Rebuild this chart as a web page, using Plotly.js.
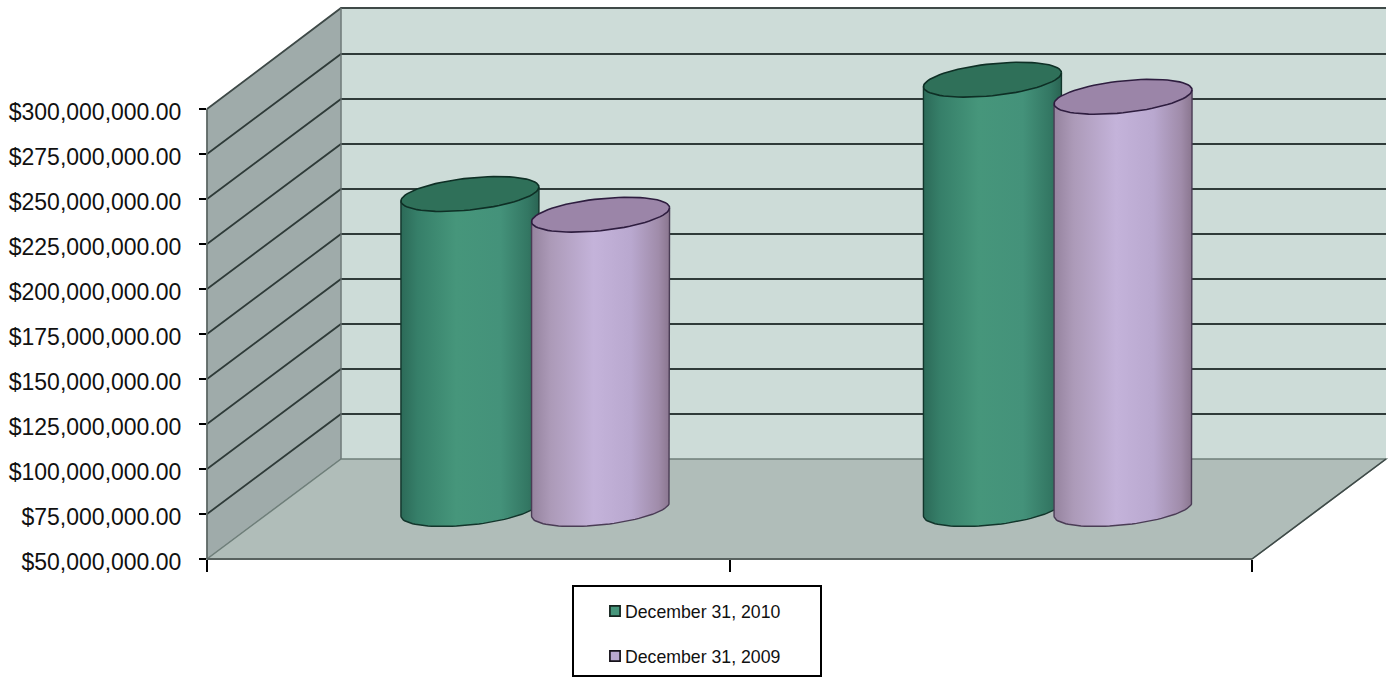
<!DOCTYPE html>
<html>
<head>
<meta charset="utf-8">
<script src="https://cdn.plot.ly/plotly-3.0.1.min.js"></script>
<style>
html,body{margin:0;padding:0;background:#fff;overflow:hidden}
#chart{width:1391px;height:677px}
.legend .legendpoints path{transform:translate(30px,0) scale(.85)}
.ytick text{translate:0 2.5px}
</style>
</head>
<body>
<div id="chart"></div>
<script>
// ---- data ----
const seriesNames = ['December 31, 2010', 'December 31, 2009'];
const groupCenters = [0.5, 1.5];
const values2010 = [225000000, 288500000];
const values2009 = [213500000, 279000000];
const axisTicks = [50000000, 75000000, 100000000, 125000000, 150000000, 175000000,
                   200000000, 225000000, 250000000, 275000000, 300000000];
const categoryEdges = [0, 1, 2];

// ---- page geometry (pixels) ----
const W = 1391, H = 677;
const frontLeft = 207, frontRight = 1252, frontBase = 559, frontTop = 109;
const depthX = 134, depthY = 100;
const pxPerUnit = (frontRight - frontLeft) / 2;
const pxPerValue = (frontBase - frontTop) / (300000000 - 50000000);
const baseValue = 50000000;
const px = x => x / W;
const py = y => 1 - y / H;
const valueY = v => frontBase - (v - baseValue) * pxPerValue;

// ---- walls, floor and grid ----
const poly = (pts, fill, line, lw) => ({
  type: 'path', xref: 'paper', yref: 'paper', layer: 'below',
  path: pts.map((p, i) => (i ? 'L' : 'M') + px(p[0]) + ',' + py(p[1])).join(' ') + (fill ? ' Z' : ''),
  fillcolor: fill || 'rgba(0,0,0,0)',
  line: {color: line, width: lw}
});
const backL = frontLeft + depthX, backR = frontRight + depthX;
const shapes = [
  poly([[backL, frontTop - depthY - 1], [backR, frontTop - depthY - 1], [backR, frontBase - depthY], [backL, frontBase - depthY]], '#cddcd8', '#cddcd8', 0),
  poly([[frontLeft, frontTop], [backL, frontTop - depthY - 1], [backL, frontBase - depthY], [frontLeft, frontBase]], '#9fabaa', '#7f8a88', 1),
  poly([[frontLeft, frontBase], [frontRight, frontBase], [backR, frontBase - depthY], [backL, frontBase - depthY]], '#b0bdb9', '#6f7f7a', 1.5)
];
axisTicks.forEach((v, i) => {
  const y = valueY(v);
  if (i === 0) return;
  shapes.push(poly([[frontLeft, y], [backL, y - depthY - (i === 10 ? 1 : 0)], [backR, y - depthY - (i === 10 ? 1 : 0)]], null, i === 10 ? '#3f4a48' : '#2f3b39', 1.8));
});
shapes.push(poly([[backL, frontTop - depthY - 1], [backL, frontBase - depthY]], null, '#6f7b7a', 1.2));
shapes.push(poly([[frontLeft, frontTop], [frontLeft, frontBase]], null, '#58625f', 1.6));
shapes.push(poly([[frontLeft, frontBase], [frontRight, frontBase]], null, '#58625f', 1.8));
shapes.push(poly([[frontRight, frontBase], [backR, frontBase - depthY]], null, '#3f4a48', 1.5));
// legend box
shapes.push({type: 'rect', xref: 'paper', yref: 'paper', layer: 'above',
  x0: px(573), x1: px(821), y0: py(676), y1: py(586),
  fillcolor: '#ffffff', line: {color: '#000000', width: 2}});

// ---- cylinders ----
const midX = frontLeft + depthX / 2, midBase = frontBase - depthY / 2;
const rx = 69, ry = 16, shear = 7;
const toX = p => (p - midX) / pxPerUnit;
const dY = d => d / pxPerValue;

function ring(cx, v, from, to, n) {
  const xs = [], ys = [];
  for (let i = 0; i <= n; i++) {
    const t = from + (to - from) * i / n;
    xs.push(cx + (rx * Math.cos(t)) / pxPerUnit);
    ys.push(v + dY(shear * Math.cos(t) - ry * Math.sin(t)));
  }
  return [xs, ys];
}
function bodyTrace(cx, v, colorscale, edge) {
  const bottom = ring(cx, baseValue, 0, Math.PI, 48);
  const xs = [cx + rx / pxPerUnit].concat(bottom[0], [cx - rx / pxPerUnit, cx + rx / pxPerUnit]);
  const ys = [v + dY(shear)].concat(bottom[1], [v - dY(shear), v + dY(shear)]);
  return {type: 'scatter', mode: 'lines', x: xs, y: ys, xaxis: 'x2', yaxis: 'y2', fill: 'toself',
    fillgradient: {type: 'horizontal', colorscale: colorscale},
    line: {color: edge, width: 1.4}, showlegend: false, hoverinfo: 'skip'};
}
function capTrace(cx, v, fill, edge) {
  const c = ring(cx, v, 0, 2 * Math.PI, 72);
  return {type: 'scatter', mode: 'lines', x: c[0], y: c[1], xaxis: 'x2', yaxis: 'y2', fill: 'toself',
    fillcolor: fill, line: {color: edge, width: 1.6}, showlegend: false, hoverinfo: 'skip'};
}
const greenScale = [[0, '#2c6a58'], [0.12, '#367f69'], [0.4, '#46967b'], [0.72, '#44927a'], [0.92, '#337763'], [1, '#2a6453']];
const purpleScale = [[0, '#95839e'], [0.14, '#ac9ab8'], [0.45, '#c4b3da'], [0.72, '#b9a8cf'], [0.92, '#a08caa'], [1, '#8a768f']];
const offset = 0.125;
const x2010 = groupCenters.map(c => c - offset);
const x2009 = groupCenters.map(c => c + offset);

const traces = [
  {type: 'bar', name: seriesNames[0], x: x2010, y: values2010.map(v => v - baseValue), base: baseValue, width: 0.2,
   xaxis: 'x2', yaxis: 'y2', legendgroup: 'a', marker: {color: '#46967b', line: {color: '#15241f', width: 2}}},
  {type: 'bar', name: seriesNames[1], x: x2009, y: values2009.map(v => v - baseValue), base: baseValue, width: 0.2,
   xaxis: 'x2', yaxis: 'y2', legendgroup: 'b', marker: {color: '#b9a8cf', line: {color: '#15121a', width: 2}}},
  {type: 'scatter', mode: 'none', x: [0], y: [baseValue], showlegend: false, hoverinfo: 'skip'}
];
[0, 1].forEach(i => {
  traces.push(bodyTrace(x2010[i], values2010[i], greenScale, '#12352b'));
  traces.push(capTrace(x2010[i], values2010[i], '#2f7059', '#0e2f25'));
  traces.push(bodyTrace(x2009[i], values2009[i], purpleScale, '#4a3c55'));
  traces.push(capTrace(x2009[i], values2009[i], '#9b85a8', '#2e1d3f'));
});

const layout = {
  width: W, height: H,
  margin: {l: 0, r: 0, t: 0, b: 0},
  paper_bgcolor: '#ffffff', plot_bgcolor: 'rgba(0,0,0,0)',
  barmode: 'overlay',
  showlegend: true,
  legend: {x: px(585), xanchor: 'left', y: py(593), yanchor: 'top', bgcolor: 'rgba(0,0,0,0)', borderwidth: 0,
    traceorder: 'grouped', tracegroupgap: 19, font: {family: 'Liberation Sans, Arial, sans-serif', size: 17.7, color: '#111'}},
  xaxis: {domain: [px(frontLeft), px(frontRight)], range: [0, 2], tickmode: 'array', tickvals: categoryEdges,
    ticktext: categoryEdges.map(() => ''), ticks: 'outside', ticklen: 12, tickwidth: 2, tickcolor: '#000',
    showgrid: false, zeroline: false, showline: false, fixedrange: true},
  yaxis: {domain: [py(frontBase), py(frontTop)], range: [baseValue, 300000000], tickmode: 'array', tickvals: axisTicks,
    tickformat: '$,.2f', ticks: 'outside', ticklen: 7, tickwidth: 2, tickcolor: '#000', ticklabelstandoff: 13,
    tickfont: {family: 'Liberation Sans, Arial, sans-serif', size: 23, color: '#111'},
    showgrid: false, zeroline: false, showline: false, fixedrange: true},
  xaxis2: {domain: [0, 1], range: [toX(0), toX(W)], visible: false, anchor: 'y2', fixedrange: true},
  yaxis2: {domain: [0, 1], range: [baseValue + dY(midBase - H), baseValue + dY(midBase)], visible: false, anchor: 'x2', fixedrange: true},
  shapes: shapes
};
Plotly.newPlot('chart', traces, layout, {displayModeBar: false, staticPlot: true});
</script>
</body>
</html>
